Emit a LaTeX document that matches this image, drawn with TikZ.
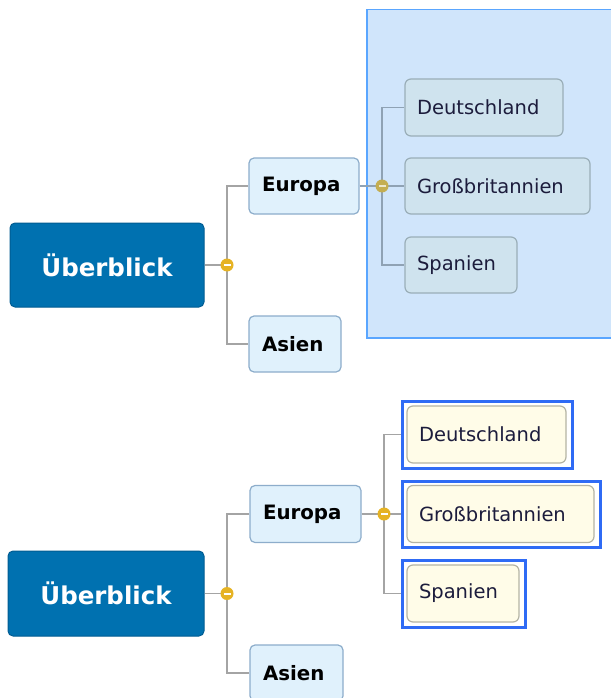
\documentclass[tikz,border=0pt]{standalone}
\usepackage{fontspec}
\setmainfont{DejaVu Sans}
\definecolor{rootfill}{HTML}{0071B0}
\definecolor{rootline}{HTML}{005C92}
\definecolor{mainfill}{HTML}{E0F1FC}
\definecolor{mainline}{HTML}{8DADCB}
\definecolor{subfill}{HTML}{CFE3EE}
\definecolor{subline}{HTML}{9AAEB8}
\definecolor{subtext}{HTML}{1C1C3C}
\definecolor{creamfill}{HTML}{FFFCE8}
\definecolor{creamline}{HTML}{B4B4A4}
\definecolor{conn}{HTML}{A4A4A4}
\definecolor{connsel}{HTML}{8FA2B4}
\definecolor{knob}{HTML}{E6B324}
\definecolor{knobsel}{HTML}{C4AE52}
\definecolor{selfill}{HTML}{D0E5FB}
\definecolor{selline}{HTML}{5AA6FF}
\definecolor{frameblue}{HTML}{2F6BF5}
\tikzset{
  rootbox/.style={draw=rootline, fill=rootfill, rounded corners=5pt, line width=1pt,
    text=white, font=\fontsize{24.5}{24.5}\selectfont\bfseries, inner sep=0pt},
  mainbox/.style={draw=mainline, fill=mainfill, rounded corners=5pt, line width=1.2pt,
    text=black, font=\fontsize{19.8}{19.8}\selectfont\bfseries, inner xsep=13pt, inner ysep=0pt, align=left},
  subbox/.style={draw=subline, fill=subfill, rounded corners=6pt, line width=1.2pt,
    text=subtext, font=\fontsize{19.5}{19.5}\selectfont, inner xsep=12pt, inner ysep=0pt, align=left},
  creambox/.style={draw=creamline, fill=creamfill, rounded corners=6pt, line width=1.2pt,
    text=subtext, font=\fontsize{19.5}{19.5}\selectfont, inner xsep=12pt, inner ysep=0pt, align=left},
  bframe/.style={draw=frameblue, line width=3pt, inner sep=0pt},
  connector/.style={draw=conn, line width=1.8pt},
  connsel/.style={draw=connsel, line width=1.8pt},
  knobnode/.style={circle, fill=knob, minimum size=13pt, inner sep=0pt},
  knobselnode/.style={circle, fill=knobsel, minimum size=13pt, inner sep=0pt},
}
\begin{document}
\begin{tikzpicture}[x=1pt,y=-1pt]
\useasboundingbox (0,0) rectangle (610,698);
\fill[white] (0,0) rectangle (610,698);

% ================= TOP =================
\node[draw=selline, fill=selfill, line width=1.5pt, minimum width=250pt, minimum height=328pt, inner sep=0pt, anchor=north west] (sel) at (366,9) {};

\node[rootbox, minimum width=194pt, minimum height=84pt] (rootA) at (107,265) {Überblick};
\node[mainbox, minimum width=110pt, minimum height=56pt, text width=84pt] (eurA) at (304,186) {Europa};
\node[mainbox, minimum width=92pt, minimum height=56pt, text width=66pt] (asiA) at (295,344) {Asien};
\node[subbox, minimum width=158pt, minimum height=57pt, text width=134pt] (deA) at (484,107.5) {Deutschland};
\node[subbox, minimum width=185pt, minimum height=56pt, text width=161pt] (gbA) at (497.5,186) {Großbritannien};
\node[subbox, minimum width=112pt, minimum height=56pt, text width=88pt] (esA) at (461,265) {Spanien};

\coordinate (kA) at (227,265);
\coordinate (kA2) at (382,186);

\draw[connector] (rootA.east) -- (kA);
\draw[connector] (eurA.west) -| (kA) |- (asiA.west);
\draw[connsel] (eurA.east) -- (kA2);
\draw[connsel] (deA.west) -| (kA2) |- (esA.west);
\draw[connsel] (kA2) -- (gbA.west);

\node[knobnode] (knA) at (kA) {};
\fill[white] ([xshift=-3.5pt,yshift=-1pt]knA.center) rectangle ([xshift=3.5pt,yshift=1pt]knA.center);
\node[knobselnode] (knA2) at (kA2) {};
\fill[white!70!knobsel] ([xshift=-3.5pt,yshift=-1pt]knA2.center) rectangle ([xshift=3.5pt,yshift=1pt]knA2.center);

% ================= BOTTOM =================
\node[rootbox, minimum width=196pt, minimum height=85pt] (rootB) at (106,593.5) {Überblick};
\node[mainbox, minimum width=111pt, minimum height=57pt, text width=85pt] (eurB) at (305.5,514) {Europa};
\node[mainbox, minimum width=93pt, minimum height=56pt, text width=67pt] (asiB) at (296.5,673) {Asien};

\node[bframe, minimum width=170pt, minimum height=67pt] (deF) at (487,434.5) {};
\node[bframe, minimum width=198pt, minimum height=66pt] (gbF) at (501,514) {};
\node[bframe, minimum width=123pt, minimum height=67pt] (esF) at (463.5,593.5) {};

\node[creambox, minimum width=159pt, minimum height=57pt, text width=135pt] (deB) at (486.5,434.5) {Deutschland};
\node[creambox, minimum width=187pt, minimum height=57pt, text width=163pt] (gbB) at (500.5,514) {Großbritannien};
\node[creambox, minimum width=112pt, minimum height=57pt, text width=88pt] (esB) at (463,593.5) {Spanien};

\coordinate (kB) at (227,593.5);
\coordinate (kB2) at (384,514);

\draw[connector] (rootB.east) -- (kB);
\draw[connector] (eurB.west) -| (kB) |- (asiB.west);
\draw[connector] (eurB.east) -- (kB2);
\draw[connector] (deF.west) -| (kB2) |- (esF.west);
\draw[connector] (kB2) -- (gbF.west);

\node[knobnode] (knB) at (kB) {};
\fill[white] ([xshift=-3.5pt,yshift=-1pt]knB.center) rectangle ([xshift=3.5pt,yshift=1pt]knB.center);
\node[knobnode] (knB2) at (kB2) {};
\fill[white] ([xshift=-3.5pt,yshift=-1pt]knB2.center) rectangle ([xshift=3.5pt,yshift=1pt]knB2.center);
\end{tikzpicture}
\end{document}
